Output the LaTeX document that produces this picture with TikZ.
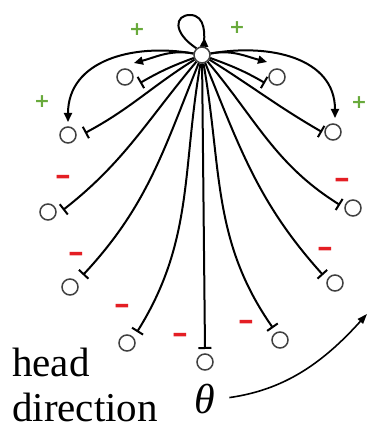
\documentclass[tikz,border=0pt]{standalone}
\usepackage{fontspec}
\setmainfont{Liberation Serif}
\newfontfamily\symfont{DejaVu Sans}
\usetikzlibrary{arrows.meta,decorations.markings,calc}
\definecolor{plusgreen}{RGB}{105,170,60}
\definecolor{minusred}{RGB}{228,30,36}
\begin{document}
\begin{tikzpicture}[x=1pt,y=1pt,
  cell/.style={circle,draw=black!75,line width=1.5pt,fill=white,minimum size=16pt,inner sep=0pt},
  inh/.style={line width=2pt,-{Bar[width=13pt]}},
  exc/.style={line width=2pt,-{Triangle[length=9pt,width=8pt]}},
  plussign/.style={text=plusgreen,font=\symfont\bfseries\fontsize{19}{19}\selectfont,inner sep=0pt},
  minussign/.style={text=minusred,font=\symfont\bfseries\fontsize{20}{20}\selectfont,inner sep=0pt},
  lbl/.style={font=\fontsize{41}{41}\selectfont,inner sep=0pt,anchor=base west}]
\useasboundingbox (0,0) rectangle (368,432);

% cells
\node[cell] (C)  at (202,377) {};
\node[cell] (L1) at (125,355) {};
\node[cell] (L2) at (68,297) {};
\node[cell] (L3) at (48,220) {};
\node[cell] (L4) at (70,145) {};
\node[cell] (L5) at (127,89) {};
\node[cell] (B)  at (205,70) {};
\node[cell] (R5) at (280,92) {};
\node[cell] (R4) at (335,149) {};
\node[cell] (R3) at (353,224) {};
\node[cell] (R2) at (333,300) {};
\node[cell] (R1) at (277,355) {};

% inhibitory connections
\draw[inh] (C) to[out=200,in=30] ($(L1)+(15,-6)$);
\draw[inh] (C) to[out=212,in=28] ($(L2)+(17,2)$);
\draw[inh] (C) to[out=230,in=38] ($(L3)+(15,2)$);
\draw[inh] (C) to[out=248,in=47] ($(L4)+(13,12)$);
\draw[inh] (C) to[out=260,in=58] ($(L5)+(10,11)$);
\draw[inh] (C) -- ($(B)+(0,13)$);
\draw[inh] (C) to[out=280,in=125] ($(R5)+(-7,12)$);
\draw[inh] (C) to[out=292,in=132] ($(R4)+(-12,8)$);
\draw[inh] (C) to[out=310,in=148] ($(R3)+(-13,3)$);
\draw[inh] (C) to[out=328,in=150] ($(R2)+(-11,0)$);
\draw[inh] (C) to[out=340,in=150] ($(R1)+(-12,-6)$);

% excitatory connections
\draw[exc] (C) to[out=170,in=15] ($(L1)+(9,14)$);
\draw[exc] (C) to[out=170,in=90,looseness=1.1] ($(L2)+(0,13)$);
\draw[exc] (C) to[out=10,in=165] ($(R1)+(-10,15)$);
\draw[exc] (C) to[out=10,in=90,looseness=1.1] ($(R2)+(2,14)$);

% self loop
\draw[line width=2pt,
  postaction={decorate,decoration={markings,mark=at position 0.1 with {\arrow{Triangle[length=9pt,width=8pt]}}}}]
  (C.80) .. controls (205,396) and (206,417) .. (190,417)
         .. controls (175,417) and (172,400) .. (C.130);

% signs
\node[plussign] (p1) at (137,402) {+};
\node[plussign] (p2) at (237,404) {+};
\node[plussign] (p3) at (42,330) {+};
\node[plussign] (p4) at (359,329) {+};
\node[minussign] (m1) at (63,251) {\scalebox{1}[1.5]{−}};
\node[minussign] (m2) at (76,174) {\scalebox{1}[1.5]{−}};
\node[minussign] (m3) at (122,122) {\scalebox{1}[1.5]{−}};
\node[minussign] (m4) at (180,93) {\scalebox{1}[1.5]{−}};
\node[minussign] (m5) at (246,106) {\scalebox{1}[1.5]{−}};
\node[minussign] (m6) at (325,179) {\scalebox{1}[1.5]{−}};
\node[minussign] (m7) at (342,248) {\scalebox{1}[1.5]{−}};

% head direction
\node[lbl] (head) at (12,56) {head};
\node[lbl] (dir) at (12,10) {direction};
\node[font=\fontsize{42}{42}\selectfont\itshape,inner sep=0pt,anchor=base] (theta) at (205,18) {θ};
\coordinate (hdend) at (367,118);
\draw[line width=1.6pt,-{Triangle[length=10pt,width=7pt]},shorten <=14pt] (theta.east) to[out=8,in=228] (hdend);
\end{tikzpicture}
\end{document}
